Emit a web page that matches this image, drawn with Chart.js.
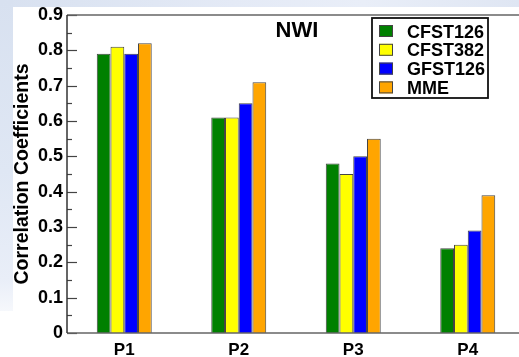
<!DOCTYPE html>
<html>
<head>
<meta charset="utf-8">
<script src="https://cdn.jsdelivr.net/npm/chart.js@4/dist/chart.umd.min.js"></script>
<style>
  html, body { margin: 0; padding: 0; background: #fff; overflow: hidden; width: 519px; height: 357px; }
  #slideTop { position: absolute; left: 0; top: 0; width: 519px; height: 7px;
    background: linear-gradient(90deg, #d8e1f0, #e4eaf6 45%, #e9eef8 70%, #dfe6f3); }
  #slideLeft { position: absolute; left: 0; top: 0; width: 13px; height: 311px;
    background: linear-gradient(180deg, #d8e1f0, #dfe7f4 55%, #e9eef8 90%, #f6f8fc); }
  #wrap { position: absolute; left: 0; top: 0; width: 540px; height: 357px; }
</style>
</head>
<body>
<div id="slideTop"></div>
<div id="slideLeft"></div>
<div id="wrap"><canvas id="c" width="540" height="357"></canvas></div>
<script>
// Correlation coefficients per period, one array per forecast system
const periods  = ['P1', 'P2', 'P3', 'P4'];
const cfst126  = [0.79, 0.61, 0.48, 0.24];
const cfst382  = [0.81, 0.61, 0.45, 0.25];
const gfst126  = [0.79, 0.65, 0.50, 0.29];
const mme      = [0.82, 0.71, 0.55, 0.39];
const seriesNames  = ['CFST126', 'CFST382', 'GFST126', 'MME'];
const seriesColors = ['#008000', '#ffff00', '#0000ff', '#ffa500'];
const panelTitle = 'NWI';
const yAxisTitle = 'Correlation Coefficients';
const yMin = 0, yMax = 0.9, yMinorStep = 0.05;

const FONT = '"Liberation Sans", Arial, Helvetica, sans-serif';
const seriesValues = [cfst126, cfst382, gfst126, mme];

// Frame lines and inward-pointing major/minor ticks on the value axis
const framePlugin = {
  id: 'frame',
  afterDatasetsDraw(chart) {
    const { ctx, chartArea: a, scales: { y } } = chart;
    ctx.save();
    ctx.strokeStyle = '#444';
    ctx.lineWidth = 1.2;
    y.ticks.forEach(t => {
      const py = Math.round(y.getPixelForValue(t.value)) + 0.5;
      const major = Math.round(t.value * 20) % 2 === 0;
      ctx.beginPath();
      ctx.moveTo(a.left, py);
      ctx.lineTo(a.left + (major ? 10 : 5), py);
      ctx.stroke();
    });
    ctx.strokeStyle = '#666';
    ctx.lineWidth = 1.5;
    ctx.beginPath();
    ctx.moveTo(a.left, a.top); ctx.lineTo(chart.width, a.top);
    ctx.moveTo(a.left, a.bottom); ctx.lineTo(chart.width, a.bottom);
    ctx.stroke();
    ctx.strokeStyle = '#333';
    ctx.beginPath();
    ctx.moveTo(a.left, a.top); ctx.lineTo(a.left, a.bottom);
    ctx.stroke();
    ctx.restore();
  }
};

// Panel label and boxed legend inside the plotting area
const annotatePlugin = {
  id: 'annotate',
  afterDraw(chart) {
    const { ctx, chartArea: a } = chart;
    ctx.save();
    ctx.fillStyle = '#000';
    ctx.font = 'bold 22px ' + FONT;
    ctx.textAlign = 'center';
    ctx.textBaseline = 'alphabetic';
    ctx.fillText(panelTitle, a.left + 230, a.top + 22);

    const bx = a.left + 305, by = a.top + 3, bw = 116, bh = 80;
    ctx.fillStyle = '#fff';
    ctx.fillRect(bx, by, bw, bh);
    ctx.strokeStyle = '#111';
    ctx.lineWidth = 1.8;
    ctx.strokeRect(bx, by, bw, bh);
    ctx.font = 'bold 18px ' + FONT;
    ctx.textAlign = 'left';
    chart.data.datasets.forEach((ds, i) => {
      const rowTop = by + 7 + i * 18.8;
      ctx.fillStyle = ds.backgroundColor;
      ctx.fillRect(bx + 7, rowTop, 14, 12);
      ctx.strokeStyle = '#444';
      ctx.lineWidth = 1;
      ctx.strokeRect(bx + 7.5, rowTop + 0.5, 13, 11);
      ctx.fillStyle = '#000';
      ctx.fillText(ds.label, bx + 35, rowTop + 12.5);
    });
    ctx.restore();
  }
};

new Chart(document.getElementById('c'), {
  type: 'bar',
  data: {
    labels: periods,
    datasets: seriesValues.map((vals, i) => ({
      label: seriesNames[i],
      data: vals,
      backgroundColor: seriesColors[i],
      borderColor: '#454545',
      borderWidth: 1,
      categoryPercentage: 0.48,
      barPercentage: 1.0
    }))
  },
  options: {
    responsive: false,
    devicePixelRatio: 1,
    animation: false,
    layout: { padding: { left: 0, right: 15, top: 15, bottom: 0 } },
    plugins: { legend: { display: false }, tooltip: { enabled: false } },
    scales: {
      x: {
        grid: { display: false, drawTicks: false },
        border: { display: false },
        ticks: { color: '#000', padding: 7, font: { family: FONT, size: 17, weight: 'bold' } },
        afterFit(scale) { scale.height = 24; }
      },
      y: {
        min: yMin,
        max: yMax,
        grid: { display: false, drawTicks: false },
        border: { display: false },
        ticks: {
          stepSize: yMinorStep,
          autoSkip: false,
          color: '#000',
          padding: 4,
          font: { family: FONT, size: 18, weight: 'bold' },
          callback(v) {
            const n = Math.round(v * 20);
            if (n % 2 !== 0) return '';
            return n === 0 ? '0' : (n / 20).toFixed(1);
          }
        },
        title: {
          display: true,
          text: yAxisTitle,
          color: '#000',
          padding: { top: 11, bottom: 0 },
          font: { family: FONT, size: 19.5, weight: 'bold' }
        },
        afterFit(scale) { scale.width = 67; }
      }
    }
  },
  plugins: [framePlugin, annotatePlugin]
});
</script>
</body>
</html>
